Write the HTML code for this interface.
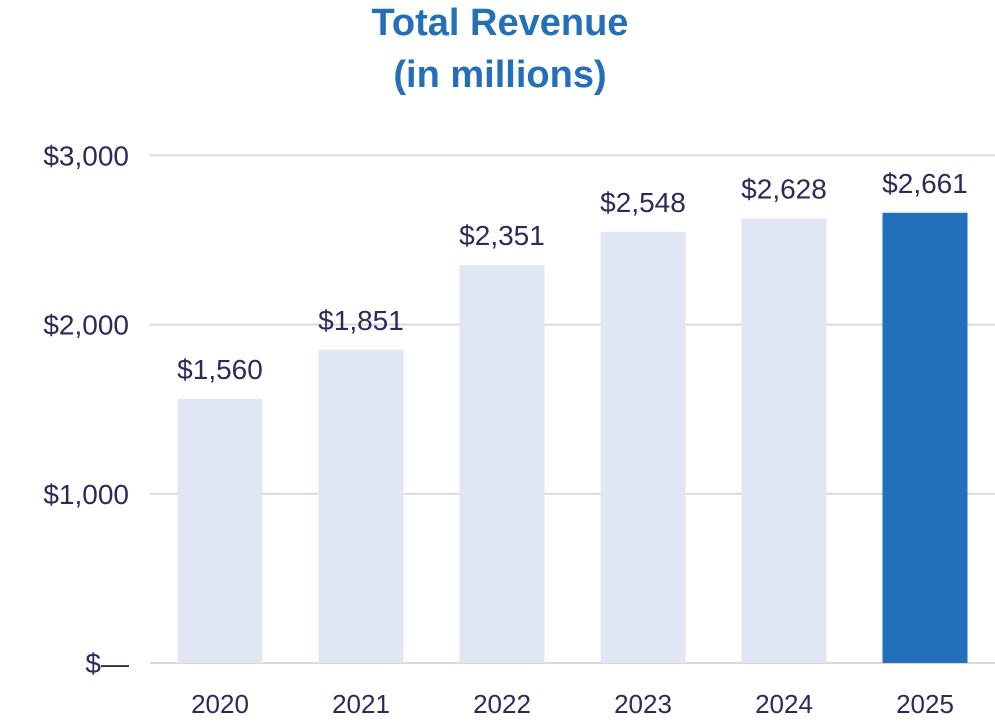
<!DOCTYPE html>
<html><head><meta charset="utf-8"><style>
body{margin:0;background:#fff;}
svg{display:block;font-family:"Liberation Sans",sans-serif;}
</style></head><body>
<svg id="chart" width="995" height="724" viewBox="0 0 995 724" xmlns="http://www.w3.org/2000/svg">
<text x="500" y="35" text-anchor="middle" font-size="38" font-weight="bold" fill="#2470B8">Total Revenue</text>
<text x="500" y="87" text-anchor="middle" font-size="38" font-weight="bold" fill="#2470B8">(in millions)</text>
<g id="grid"></g><g id="bars"></g><g id="labels"></g>
</svg>
<script>
const categories=["2020","2021","2022","2023","2024","2025"];
const revenue=[1560,1851,2351,2548,2628,2661];
const valueLabels=["$1,560","$1,851","$2,351","$2,548","$2,628","$2,661"];
const tickValues=[0,1000,2000,3000];
const tickLabels=["$—","$1,000","$2,000","$3,000"];
const NS="http://www.w3.org/2000/svg";
const y0=663,pxPer=0.1692;
function yScale(v){return y0-v*pxPer;}
function xCenter(i){return 220+i*141;}
const grid=document.getElementById('grid'),bars=document.getElementById('bars'),labels=document.getElementById('labels');
function mk(tag,attrs,parent,txt){const e=document.createElementNS(NS,tag);for(const k in attrs)e.setAttribute(k,attrs[k]);if(txt!==undefined)e.textContent=txt;parent.appendChild(e);return e;}
tickValues.forEach((t,i)=>{
  const l=mk('line',{x1:150,x2:995,y1:yScale(t),y2:yScale(t),stroke:'#d9d9de','stroke-width':2},grid);
  
  
  const tx=mk('text',{x:129,y:yScale(t)+10,'text-anchor':'end','font-size':28,fill:'#2B2A5E'},grid,tickLabels[i]);
  
  
});
categories.forEach((c,i)=>{
  const cx=xCenter(i),w=85,top=yScale(revenue[i]);
  const r=mk('rect',{x:cx-w/2,y:top,width:w,height:y0-top,fill:i===categories.length-1?'#2270B9':'#E1E6F4'},bars);
  
  
  const v=mk('text',{x:cx,y:top-20,'text-anchor':'middle','font-size':28,fill:'#2B2A5E'},labels,valueLabels[i]);
  
  
  const x=mk('text',{x:cx,y:713,'text-anchor':'middle','font-size':26,fill:'#2B2A5E'},labels,c);
  
  
});
</script>
</body></html>
